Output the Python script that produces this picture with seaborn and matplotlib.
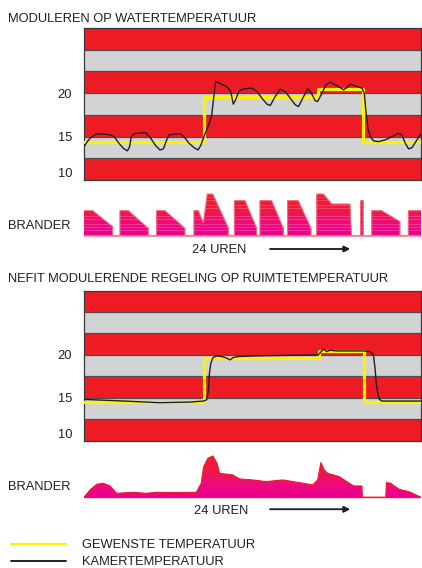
import numpy as np
import pandas as pd
import seaborn as sns
import matplotlib.pyplot as plt
from matplotlib.colors import LinearSegmentedColormap
from matplotlib.lines import Line2D

# ---- data: time in hours (0-24), temperatures in degrees C, burner load in % ----
water_hours = [0, 0.24, 0.47, 0.83, 1.19, 1.78, 2.14, 2.49, 2.80, 3.09, 3.25, 3.37, 3.56, 4.04,
               4.39, 4.75, 5.10, 5.41, 5.65, 5.89, 6.05, 6.53, 6.88, 7.12, 7.48, 7.83, 8.12,
               8.31, 8.59, 8.90, 9.09, 9.26, 9.38, 9.73, 10.21, 10.45, 10.63, 10.80, 11.04,
               11.40, 11.96, 12.32, 12.67, 13.03, 13.27, 13.62, 13.98, 14.33, 14.69, 15.05,
               15.28, 15.64, 15.95, 16.19, 16.47, 16.64, 16.95, 17.23, 17.54, 18.01, 18.49,
               18.73, 18.96, 19.44, 19.79, 19.96, 20.08, 20.22, 20.39, 20.63, 20.98, 21.46,
               21.93, 22.41, 22.64, 22.88, 23.12, 23.36, 23.71, 24.0]
water_temp = [13.85, 14.42, 14.88, 15.27, 15.31, 15.23, 15.0, 14.23, 13.65, 13.35, 13.85, 15.0,
              15.31, 15.42, 15.46, 14.81, 13.96, 13.46, 13.58, 14.62, 15.19, 15.31, 15.31,
              15.0, 14.23, 13.73, 13.46, 13.96, 15.19, 16.42, 17.42, 19.81, 21.35, 21.08,
              20.69, 20.19, 18.73, 19.23, 20.27, 20.5, 20.58, 20.19, 19.42, 18.73, 18.58,
              19.62, 20.46, 20.19, 19.42, 18.65, 18.46, 19.62, 20.5, 20.0, 19.12, 19.04,
              20.0, 20.96, 21.27, 20.88, 20.38, 20.65, 21.04, 20.77, 20.58, 20.0, 17.88,
              15.96, 15.0, 14.5, 14.42, 14.62, 15.0, 15.38, 15.19, 14.23, 13.58, 13.73,
              14.62, 15.3]

room_hours = [0, 2.30, 5.38, 7.55, 8.50, 8.74, 8.86, 8.93, 9.02, 9.16, 9.40, 9.80, 10.16,
              10.40, 10.63, 10.99, 12.30, 16.69, 16.93, 17.09, 17.28, 17.52, 17.99, 19.89,
              20.37, 20.61, 20.72, 20.84, 21.01, 21.20, 24.0]
room_temp = [14.81, 14.66, 14.43, 14.5, 14.62, 14.77, 15.85, 17.77, 18.92, 19.62, 19.88, 19.81,
             19.62, 19.42, 19.69, 19.81, 19.88, 20.0, 20.46, 20.65, 20.38, 20.54, 20.46, 20.46,
             20.38, 20.0, 18.54, 16.23, 14.88, 14.62, 14.62]

set1_hours = [0, 8.55, 16.66, 19.87, 24]
set1_temp = [14.42, 19.54, 20.5, 14.42, 14.42]
set2_hours = [0, 8.56, 16.75, 19.92, 24]
set2_temp = [14.5, 19.58, 20.42, 14.46, 14.46]

burner1_hours = [0, 0.62, 2.04, 2.04, 2.56, 2.56, 3.16, 4.58, 4.58, 5.17, 5.17, 5.77, 7.19, 7.19,
                 7.83, 7.83, 8.14, 8.50, 8.78, 9.17, 10.28, 10.28, 10.71, 10.71, 11.47, 12.30, 12.30,
                 12.53, 12.53, 13.36, 14.20, 14.20, 14.50, 14.50, 15.26, 16.17, 16.17,
                 16.57, 16.57, 17.05, 17.64, 18.94, 19.05, 19.70, 19.70, 19.89, 19.89,
                 20.49, 20.49, 21.20, 22.50, 22.50, 23.10, 23.10, 24.0]
burner1_load = [60, 60, 21.6, 0, 0, 60, 60, 17.6, 0, 0, 60, 60, 17.6, 0,
                0, 60, 60, 30.5, 100, 100, 18.5, 0, 0, 84, 84, 17.6, 0,
                0, 84, 84, 17.6, 0, 0, 84, 84, 17.6, 0,
                0, 100, 100, 76, 76, 0, 0, 84, 84, 0,
                0, 60, 60, 33.6, 0, 0, 60, 60]

burner2_hours = [0, 0.43, 0.90, 1.37, 1.85, 2.32, 3.50, 4.45, 5.16, 6.34, 8.0, 8.35, 8.52, 8.83,
                 9.18, 9.47, 9.66, 10.60, 11.08, 12.02, 12.97, 14.15, 15.34, 16.28, 16.64, 16.87,
                 17.11, 17.35, 18.18, 19.0, 19.24, 19.79, 19.83, 21.49, 21.54, 21.84, 22.44, 23.15, 24.0]
burner2_load = [0, 17.6, 31.2, 33.6, 27.2, 9.6, 12, 9.6, 12, 11.2, 12, 33.6, 73.6, 93.6,
                99.2, 81.6, 57.6, 53.6, 44, 41.6, 37.6, 41.6, 35.2, 29.6, 41.6, 83.2,
                65.6, 57.6, 49.6, 31.2, 27.2, 27.2, 0, 0, 35.2, 33.6, 19.2, 13.6, 0]

y_ticks = [10, 15, 20]
title_top = "MODULEREN OP WATERTEMPERATUUR"
title_bottom = "NEFIT MODULERENDE REGELING OP RUIMTETEMPERATUUR"
burner_label = "BRANDER"
time_label = "24 UREN"
legend_labels = ["GEWENSTE TEMPERATUUR", "KAMERTEMPERATUUR"]

# ---- style ----
RED = "#ed1c24"
GREY = "#d1d3d4"
YELLOW = "#fff200"
INK = "#231f20"
MAGENTA = "#ec008c"
FS = 9.3

sns.set_theme(style="white")
plt.rcParams["font.family"] = ["Liberation Sans", "DejaVu Sans"]

W, H = 422, 568
fig = plt.figure(figsize=(W / 100, H / 100), dpi=100)


def add_axes_px(left, top, right, bottom):
    return fig.add_axes([left / W, 1 - bottom / H, (right - left) / W, (bottom - top) / H])


def text_px(x, y, s, **kw):
    fig.text(x / W, 1 - y / H, s, fontsize=FS, color=INK, va="baseline", **kw)


def temp_chart(ax, hrs, temp, set_h, set_t):
    for i in range(7):
        lo = 10 + 2.5 * i
        ax.axhspan(lo, lo + 2.5, color=RED if i % 2 == 0 else GREY, lw=0, zorder=0)
        if i > 0:
            ax.axhline(lo, color="#4d4d4f", lw=0.9, zorder=1)
    sns.lineplot(x=set_h, y=set_t, ax=ax, color=YELLOW, lw=2.3, drawstyle="steps-post",
                 estimator=None, sort=False, zorder=3)
    sns.lineplot(x=hrs, y=temp, ax=ax, color=INK, lw=1.0, estimator=None, sort=False, zorder=4)
    ax.set_xlim(0, 24)
    ax.set_ylim(10, 27.5)
    ax.set_xticks([])
    ax.set_yticks(y_ticks)
    ax.set_yticklabels([str(t) for t in y_ticks])
    ax.tick_params(axis="y", length=0, pad=8.5, labelsize=FS, labelcolor=INK)
    ax.get_yticklabels()[0].set_va("bottom")
    ax.set_xlabel("")
    ax.set_ylabel("")
    for sp in ax.spines.values():
        sp.set_visible(True)
        sp.set_color("#3a3a3c")
        sp.set_linewidth(0.9)


cmap = LinearSegmentedColormap.from_list(
    "burn", [(0, MAGENTA), (0.25, "#ec0a80"), (0.6, "#ed1c3f"), (1, RED)])


def burner_chart(ax, hrs, load, stripes, edge, base, ylim):
    ax.axhline(0, color=base, lw=1.0, zorder=1)
    poly = ax.fill_between(hrs, 0, load, color="none", lw=0)
    img = cmap(np.linspace(0, 1, 220))[:, :3]
    if stripes:
        mask = (np.arange(220) % 13) < 3
        img[mask] = img[mask] * 0.82 + 0.18
    im = ax.imshow(img[:, None, :], extent=[0, 24, 0, 110], origin="lower", aspect="auto",
                   interpolation="nearest", zorder=2)
    im.set_clip_path(poly.get_paths()[0], transform=ax.transData)
    sns.lineplot(x=hrs, y=load, ax=ax, color=edge, lw=0.8, estimator=None, sort=False, zorder=3)
    ax.set_xlim(0, 24)
    ax.set_ylim(*ylim)
    ax.axis("off")


ax1 = add_axes_px(84, 28, 421, 180)
temp_chart(ax1, water_hours, water_temp, set1_hours, set1_temp)

b1 = add_axes_px(84, 190, 421, 238)
burner_chart(b1, burner1_hours, burner1_load, True, "#f26878", "#f7a6b4", (-5.5, 109.6))

ax2 = add_axes_px(84, 290.5, 421, 440.7)
temp_chart(ax2, room_hours, room_temp, set2_hours, set2_temp)

b2 = add_axes_px(84, 452, 421, 500)
burner_chart(b2, burner2_hours, burner2_load, False, RED, RED, (-6.5, 108.6))

# texts
text_px(8, 22, title_top)
text_px(8, 281.7, title_bottom)
text_px(8, 229.3, burner_label)
text_px(8, 490, burner_label)
text_px(219, 253.3, time_label, ha="center")
text_px(221, 514, time_label, ha="center")

for y in (249, 509.3):
    fig.add_artist(plt.annotate("", xy=(350 / W, 1 - y / H), xytext=(270 / W, 1 - y / H),
                                xycoords="figure fraction", textcoords="figure fraction",
                                arrowprops=dict(arrowstyle="-|>", color=INK, lw=1.1,
                                                mutation_scale=9, shrinkA=0, shrinkB=0)))

fig.add_artist(Line2D([11 / W, 66 / W], [1 - 543.7 / H] * 2, color=YELLOW, lw=1.6,
                      transform=fig.transFigure))
fig.add_artist(Line2D([11 / W, 66 / W], [1 - 560.5 / H] * 2, color=INK, lw=1.4,
                      transform=fig.transFigure))
text_px(82, 548.3, legend_labels[0])
text_px(82, 565, legend_labels[1])

fig.savefig("out.png", dpi=100)
